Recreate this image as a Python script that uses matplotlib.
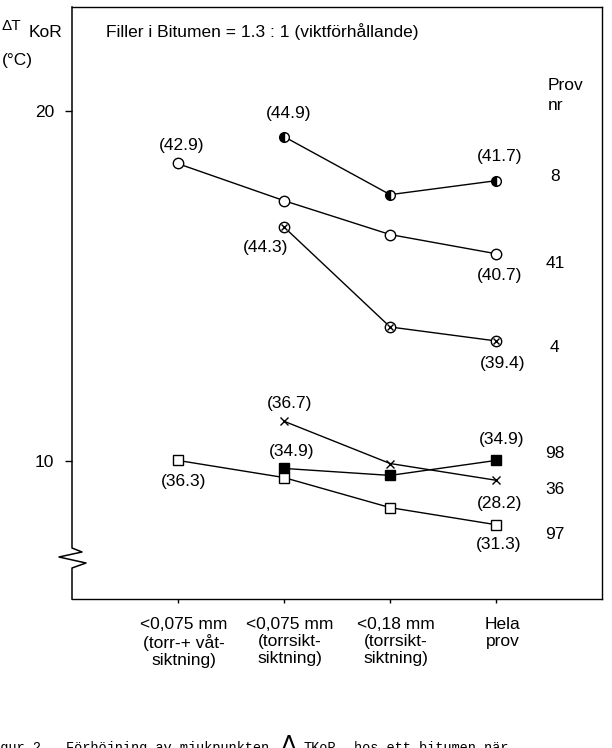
import numpy as np
import matplotlib.pyplot as plt
from matplotlib.lines import Line2D
from matplotlib.transforms import ScaledTranslation

plt.rcParams['font.family'] = ['Liberation Sans', 'DejaVu Sans']

# data
categories = ['<0,075 mm\n(torr-+ våt-\nsiktning)', '<0,075 mm\n(torrsikt-\nsiktning)',
              '<0,18 mm\n(torrsikt-\nsiktning)', 'Hela\nprov']
x = np.arange(len(categories))

prov_8 = [np.nan, 19.28, 17.62, 18.02]
prov_41 = [18.51, 17.45, 16.48, 15.93]
prov_4 = [np.nan, 16.70, 13.84, 13.44]
prov_36 = [np.nan, 11.15, 9.94, 9.46]
prov_98 = [np.nan, 9.80, 9.60, 10.03]
prov_97 = [10.03, 9.54, 8.68, 8.19]

# bracket values at first / last point
lab_8 = ['(44.9)', '(41.7)']
lab_41 = ['(42.9)', '(40.7)']
lab_4 = ['(44.3)', '(39.4)']
lab_36 = ['(36.7)', '(28.2)']
lab_98 = ['(34.9)', '(34.9)']
lab_97 = ['(36.3)', '(31.3)']

prov_nr = ['8', '41', '4', '98', '36', '97']

fs = 12.5
fig = plt.figure(figsize=(6.12, 7.48), dpi=100)
ax = fig.add_axes([72/612, 1 - 599/748, 530/612, 592/748])
ax.set_xlim(-0.9925, 3.993)
ax.set_ylim(6.07, 22.98)

lw = 1.0
ax.plot(x, prov_8, '-', color='k', lw=lw, marker='o', ms=7, fillstyle='left',
        mfc='k', markerfacecoloralt='white', mec='k', mew=1.0)
ax.plot(x, prov_41, '-', color='k', lw=lw, marker='o', ms=7.5, mfc='white', mec='k', mew=1.0)
ax.plot(x, prov_4, '-', color='k', lw=lw, marker='o', ms=7.5, mfc='white', mec='k', mew=1.0)
ax.plot(x, prov_4, ls='none', marker='x', ms=5, mec='k', mew=1.0)
ax.plot(x, prov_36, '-', color='k', lw=lw, marker='x', ms=6, mec='k', mew=1.0)
ax.plot(x, prov_98, '-', color='k', lw=lw, marker='s', ms=6.5, mfc='k', mec='k', mew=1.0)
ax.plot(x, prov_97, '-', color='k', lw=lw, marker='s', ms=7, mfc='white', mec='k', mew=1.0)

# value labels, offsets in pixels (first, last)
series = [
    (prov_8, lab_8, [(5, 23), (3, 24)]),
    (prov_41, lab_41, [(4, 18), (3, -22)]),
    (prov_4, lab_4, [(-18, -21), (6, -23)]),
    (prov_36, lab_36, [(6, 18), (3, -23)]),
    (prov_98, lab_98, [(8, 17), (5, 21)]),
    (prov_97, lab_97, [(6, -21), (2, -20)]),
]
for vals, labs, offs in series:
    idx = [i for i, v in enumerate(vals) if not np.isnan(v)]
    for i, lab, off in zip([idx[0], idx[-1]], labs, offs):
        ax.annotate(lab, (x[i], vals[i]), xytext=off, textcoords='offset pixels',
                    ha='center', va='center', fontsize=fs)

# sample numbers at right
nr_y = [18.14, 15.64, 13.24, 10.23, 9.20, 7.91]
for nr, yy in zip(prov_nr, nr_y):
    ax.text(0.911, yy, nr, transform=ax.get_yaxis_transform(), ha='center', va='center', fontsize=fs)
fig.text(548/612, 1 - 86/748, 'Prov', ha='left', va='center', fontsize=fs)
fig.text(548/612, 1 - 105/748, 'nr', ha='left', va='center', fontsize=fs)

ax.text(106/612, 1 - 37/748, 'Filler i Bitumen = 1.3 : 1 (viktförhållande)',
        transform=fig.transFigure, ha='left', va='baseline', fontsize=fs)

# ticks
ax.set_yticks([10, 20])
ax.set_yticklabels(['10', '20'], fontsize=fs)
ax.tick_params(axis='y', direction='out', length=5, width=1, pad=8)
ax.set_xticks(x)
ax.set_xticklabels(categories, fontsize=fs, linespacing=1.15)
ax.tick_params(axis='x', direction='out', length=3, width=1, pad=10)
for t in ax.get_xticklabels():
    t.set_transform(t.get_transform() + ScaledTranslation(6/100, 0, fig.dpi_scale_trans))

for s in ['top', 'right', 'bottom']:
    ax.spines[s].set_linewidth(1.0)
ax.spines['left'].set_visible(False)

# left spine with break symbol
brk_px = [(0, 7), (0, 548), (10, 552), (-13, 557), (14, 563), (0, 568), (0, 599)]
bx = [dx / 530 for dx, py in brk_px]
by = [(599 - py) / 592 for dx, py in brk_px]
ax.add_line(Line2D(bx, by, transform=ax.transAxes, color='k', lw=1.1, clip_on=False))

# y label
fig.text(1/612, 1 - 30/748, 'ΔT', ha='left', va='baseline', fontsize=11)
fig.text(29/612, 1 - 37/748, 'KoR', ha='left', va='baseline', fontsize=fs)
fig.text(2/612, 1 - 65/748, '(°C)', ha='left', va='baseline', fontsize=fs)

# caption (cut off by the page edge)
cap = dict(va='baseline', fontsize=9.8, family=['Liberation Mono', 'DejaVu Sans Mono'])
fig.text(-16/612, -4/748, 'Figur 2', ha='left', **cap)
fig.text(66/612, -4/748, 'Förhöjning av mjukpunkten', ha='left', **cap)
fig.text(280/612, -4/748, 'Δ', ha='left', va='baseline', fontsize=17)
fig.text(303/612, -4/748, 'TKoR', ha='left', **cap)
fig.text(354/612, -4/748, 'hos ett bitumen när', ha='left', **cap)

fig.savefig('out.png', dpi=100, facecolor='white')
